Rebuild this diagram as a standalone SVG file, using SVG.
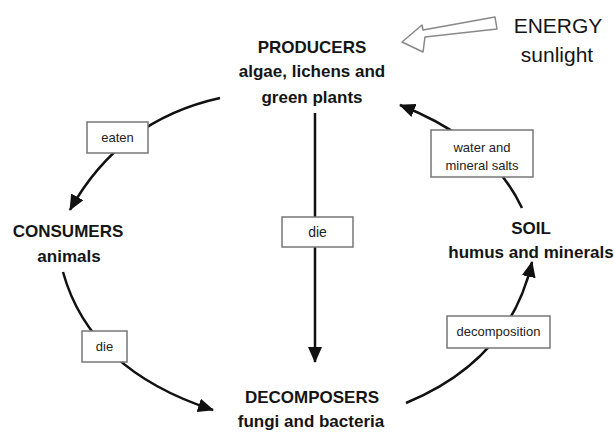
<svg xmlns="http://www.w3.org/2000/svg" width="614" height="437" viewBox="0 0 614 437">
<style>
.t{font-family:"Liberation Sans",Arial,sans-serif;font-weight:bold;font-size:17px;fill:#151515;text-anchor:middle}
.e{font-family:"Liberation Sans",Arial,sans-serif;font-size:21px;fill:#151515;text-anchor:middle}
.b{font-family:"Liberation Sans",Arial,sans-serif;font-size:13px;fill:#222;text-anchor:middle}
.box{fill:#fff;stroke:#777;stroke-width:1.5}
.c{fill:none;stroke:#111;stroke-width:2.5}
</style>
<defs>
<marker id="ah" viewBox="0 0 16 14" refX="15" refY="7" markerWidth="16" markerHeight="14" markerUnits="userSpaceOnUse" orient="auto">
<path d="M0,0 L16,7 L0,14 Z" fill="#111"/>
</marker>
</defs>
<rect width="614" height="437" fill="#fff"/>
<g id="connectors">
<path class="c" d="M220,98 Q120,120 70,210" marker-end="url(#ah)"/>
<path class="c" d="M63,272 Q90,370 213,410" marker-end="url(#ah)"/>
<path class="c" d="M315,113 L315,362" marker-end="url(#ah)"/>
<path class="c" d="M406,403 Q510,360 532,262" marker-end="url(#ah)"/>
<path class="c" d="M522,208 Q490,140 400,105" marker-end="url(#ah)"/>
</g>
<g id="energy-arrow">
<polygon points="402,42 422,25 423,30 495,17 497,29 425,37 423,52" fill="#fff" stroke="#888" stroke-width="1.5" stroke-linejoin="round"/>
</g>
<g id="energy">
<text class="e" x="558" y="33">ENERGY</text>
<text class="e" x="557" y="62">sunlight</text>
</g>
<g id="producers">
<text class="t" x="312" y="53">PRODUCERS</text>
<text class="t" x="312" y="77">algae, lichens and</text>
<text class="t" x="312" y="103">green plants</text>
</g>
<g id="consumers">
<text class="t" x="68" y="237">CONSUMERS</text>
<text class="t" x="69" y="262">animals</text>
</g>
<g id="decomposers">
<text class="t" x="312" y="403">DECOMPOSERS</text>
<text class="t" x="311" y="427">fungi and bacteria</text>
</g>
<g id="soil">
<text class="t" x="531" y="234">SOIL</text>
<text class="t" x="531" y="258">humus and minerals</text>
</g>
<g id="label-eaten">
<rect class="box" x="87" y="122" width="61" height="31"/>
<text class="b" x="117.5" y="142">eaten</text>
</g>
<g id="label-die-left">
<rect class="box" x="82" y="331" width="45" height="31"/>
<text class="b" x="104.5" y="351">die</text>
</g>
<g id="label-die-center">
<rect class="box" x="282" y="217" width="71" height="30"/>
<text class="b" x="317.5" y="237" style="font-size:14px">die</text>
</g>
<g id="label-decomposition">
<rect class="box" x="447" y="316" width="103" height="32"/>
<text class="b" x="498.5" y="336">decomposition</text>
</g>
<g id="label-water">
<rect class="box" x="431" y="130" width="102" height="47"/>
<text class="b" x="482" y="152">water and</text>
<text class="b" x="482" y="170">mineral salts</text>
</g>
</svg>
